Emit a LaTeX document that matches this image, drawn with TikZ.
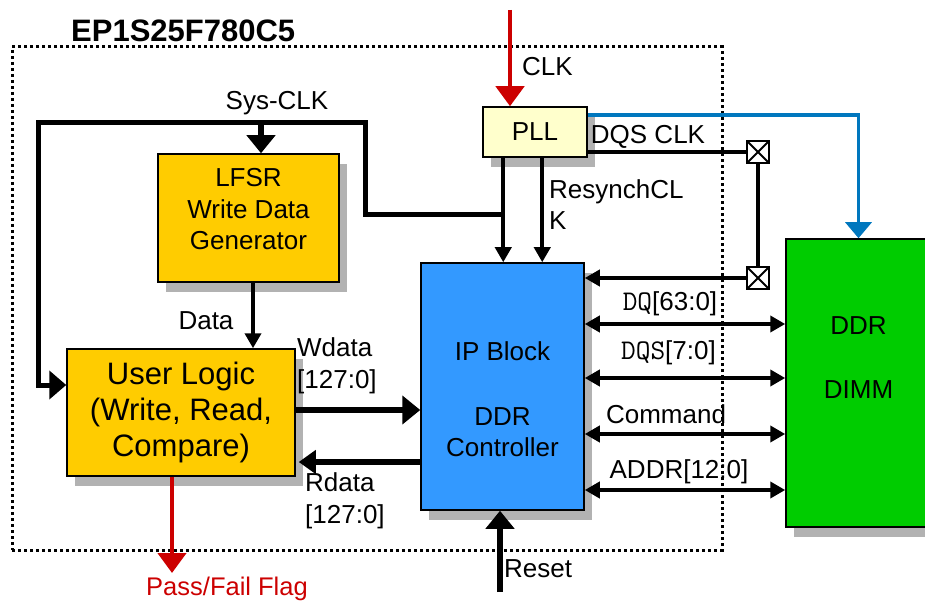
\documentclass[tikz,border=0pt]{standalone}
\usepackage{fontspec}
\setmainfont{Liberation Sans}
\usetikzlibrary{arrows.meta,shadows,calc}
\definecolor{boxyellow}{RGB}{255,204,0}
\definecolor{pllyellow}{RGB}{255,255,204}
\definecolor{ipblue}{RGB}{51,153,255}
\definecolor{ddrgreen}{RGB}{0,204,0}
\definecolor{shadowgray}{RGB}{178,178,178}
\definecolor{sigred}{RGB}{204,0,0}
\definecolor{clkblue}{RGB}{0,119,190}
\begin{document}
\begin{tikzpicture}[x=1pt,y=-1pt,
  block/.style={draw=black,line width=1.5pt,inner sep=0pt,
    general shadow={fill=shadowgray,shadow xshift=8pt,shadow yshift=-10pt}},
  lbl/.style={inner sep=0pt,font=\fontsize{26}{31}\selectfont},
  monotxt/.style={font=\fontsize{28.5}{31}\ttfamily},
  frame/.style={draw=black,line width=3pt,dash pattern=on 3pt off 3pt,inner sep=0pt},
  xbox/.style={draw=black,line width=2.5pt,fill=white,minimum size=22pt,inner sep=0pt,
    path picture={\draw[line width=2pt] (path picture bounding box.north west) -- (path picture bounding box.south east)
      (path picture bounding box.north east) -- (path picture bounding box.south west);}},
  sigline/.style={line width=3.5pt},
  smallarr/.style={line width=4pt,-{Triangle[width=16pt,length=15pt]}},
  biarr/.style={line width=4.5pt,{Triangle[width=16pt,length=15pt]}-{Triangle[width=16pt,length=15pt]}},
  bigarr/.style={line width=6pt,-{Triangle[width=28pt,length=18pt]}},
  rdarr/.style={line width=6pt,-{Triangle[width=23pt,length=17pt]}},
  sysline/.style={line width=5pt,-{Triangle[width=28pt,length=17pt]}},
  redarr/.style={draw=sigred,line width=4.5pt,-{Triangle[width=28pt,length=20pt]}},
  bluearr/.style={draw=clkblue,line width=3.5pt,-{Triangle[width=26pt,length=16pt]}}
]
\useasboundingbox (0,0) rectangle (925,601);
\clip (0,0) rectangle (925,601);

% chip frame and title
\node[frame,minimum width=710pt,minimum height=503pt] (chip) at (367,298.5) {};
\node[anchor=base west,inner sep=0pt,font=\bfseries\fontsize{31}{36}\selectfont] (title) at (71,42) {EP1S25F780C5};

% blocks
\node[block,fill=pllyellow,minimum width=104pt,minimum height=50pt,font=\fontsize{26}{31}\selectfont] (pll) at (535,132) {PLL};
\node[block,fill=boxyellow,minimum width=181pt,minimum height=128pt] (lfsr) at (248.5,218) {};
\node[block,fill=boxyellow,minimum width=228pt,minimum height=127pt] (ul) at (181,412.5) {};
\node[block,fill=ipblue,minimum width=163pt,minimum height=247pt] (ip) at (502.5,386.5) {};
\node[block,fill=ddrgreen,minimum width=145pt,minimum height=288pt] (ddr) at (858.5,383) {};

% block texts
\node[lbl,anchor=north,align=center,font=\fontsize{26}{31.5}\selectfont] (lfsrT) at (248.5,168.5) {LFSR\\Write Data\\Generator};
\node[lbl,anchor=north,align=center,font=\fontsize{31}{36}\selectfont] (ulT) at (181,362) {User Logic\\(Write, Read,\\Compare)};
\node[lbl,anchor=north,align=center,font=\fontsize{26}{30.5}\selectfont] (ipT) at (502.5,341.5) {IP Block\\[34.5pt]DDR\\Controller};
\node[lbl,anchor=north,align=center,font=\fontsize{26}{30}\selectfont] (ddrT) at (858.5,316.5) {DDR\\[34pt]DIMM};

% crossed boxes
\node[xbox] (xb1) at (758,152) {};
\node[xbox] (xb2) at (758,278) {};

% named coordinates
\coordinate (clkSrc) at (510,10);
\coordinate (pllA) at ([xshift=21pt]pll.south west);
\coordinate (pllB) at ([xshift=60pt]pll.south west);
\coordinate (pllBlue) at ([yshift=17pt]pll.east);
\coordinate (pllDqs) at ([yshift=-20pt]pll.east);
\coordinate (sysJ) at (504,215);
\coordinate (sysR) at (365,123);
\coordinate (sysL) at (38,123);
\coordinate (ulIn) at ([yshift=27.5pt]ul.west);
\coordinate (lfsrIn) at ([xshift=12.5pt]lfsr.north);
\coordinate (lfsrOut) at ([xshift=4.5pt]lfsr.south);
\coordinate (ulW) at ([yshift=2.5pt]ul.east);
\coordinate (ipR) at ([yshift=-75.5pt]ip.west);
\coordinate (rstSrc) at (500,592);
\coordinate (ulOut) at ([xshift=-9pt]ul.south);
\coordinate (pfEnd) at (172,573);

% connectors
\draw[redarr] (clkSrc) -- (clkSrc |- pll.north);
\draw[smallarr] (pllA) -- (pllA |- ip.north);
\draw[smallarr] (pllB) -- (pllB |- ip.north);
\draw[bluearr] (pllBlue) -| (ddr.north);
\draw[sigline] (pllDqs) -- (xb1.west);
\draw[sigline] (xb1.south) -- (xb2.north);
\draw[smallarr] (xb2.west) -- (xb2.west -| ip.east);
\draw[sysline] (sysJ) -| (sysR) -- (sysL) |- (ulIn);
\draw[bigarr] (lfsrIn |- sysL) -- (lfsrIn);
\draw[smallarr] (lfsrOut) -- (lfsrOut |- ul.north);
\draw[bigarr] (ulW) -- (ulW -| ip.west);
\draw[rdarr] (ipR) -- ([xshift=3pt]ipR -| ul.east);
\draw[bigarr] (rstSrc) -- (rstSrc |- ip.south);
\draw[redarr] (ulOut) -- (pfEnd);
\foreach \dy/\nm in {62.5/dq,8.5/dqs,-47.5/cmd,-103.5/addr}{
  \coordinate (\nm L) at ([yshift=\dy pt]ip.east);
  \draw[biarr] (\nm L) -- (\nm L -| ddr.west);
}

% labels
\node[lbl,anchor=base] (sysclkT) at (277,110) {Sys-CLK};
\node[lbl,anchor=base west] (clkT) at (522,76) {CLK};
\node[lbl,anchor=base] (dqsclkT) at (648,144) {DQS CLK};
\node[lbl,anchor=north west,align=left] (resynchT) at (549,179) {ResynchCL\\K};
\node[lbl,anchor=base] (dataT) at (206,329) {Data};
\node[lbl,anchor=north west,align=left,font=\fontsize{26}{32}\selectfont] (wdataT) at (297,337) {Wdata\\{}[127:0]};
\node[lbl,anchor=north west,align=left,font=\fontsize{26}{32}\selectfont] (rdataT) at (305,472) {Rdata\\{}[127:0]};
\node[lbl,anchor=base] (dqT) at (670,310) {{\fontsize{28.5}{31}\ttfamily DQ}[63:0]};
\node[lbl,anchor=base] (dqsT) at (668.5,359) {{\fontsize{28.5}{31}\ttfamily DQS}[7:0]};
\node[lbl,anchor=base] (cmdT) at (666,423) {Command};
\node[lbl,anchor=base] (addrT) at (679,478) {ADDR[12:0]};
\node[lbl,anchor=base west] (resetT) at (504,577) {Reset};
\node[inner sep=0pt,anchor=base,text=sigred,font=\fontsize{25.5}{30}\selectfont] (pfT) at (227,595) {Pass/Fail Flag};
\end{tikzpicture}
\end{document}
